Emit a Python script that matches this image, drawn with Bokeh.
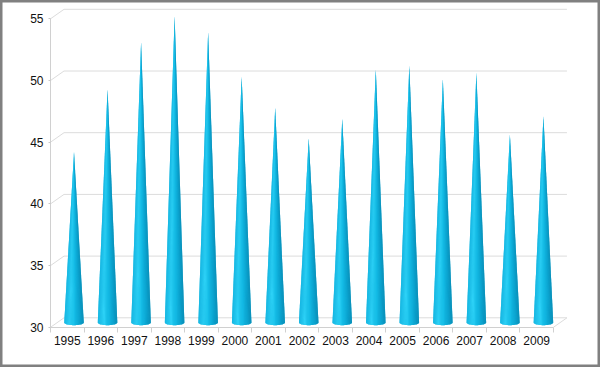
import numpy as np
from bokeh.plotting import figure
from bokeh.models import Range1d, LinearAxis, FixedTicker
from bokeh.embed import file_html
from bokeh.resources import INLINE

# ---- data ----
years = [str(y) for y in range(1995, 2010)]
values = [44.2, 49.3, 53.1, 55.2, 53.9, 50.3, 47.8, 45.3, 46.9, 50.9, 51.2, 50.1, 50.6, 45.6, 47.1]
y_ticks = [30, 35, 40, 45, 50, 55]
base_value = 30
top_value = 55

# ---- layout (pixels) ----
W, H = 600, 367
px_x = 33.53      # px per category
px_y = 12.34      # px per value unit
x0_px = 50.0      # front axis position in figure px
ytop_px = 18.3    # where top_value sits (figure px from top)
depth_dx_px = 13.5
depth_dy_px = 9.5

n = len(years)
x_start = -x0_px / px_x
x_end = (W - x0_px) / px_x
y_end = top_value + ytop_px / px_y
y_start = top_value - (H - ytop_px) / px_y
ddx = depth_dx_px / px_x
ddy = depth_dy_px / px_y

p = figure(width=W, height=H, x_range=Range1d(x_start, x_end), y_range=Range1d(y_start, y_end),
           output_backend="svg", toolbar_location=None, x_axis_location=None, y_axis_location=None,
           min_border=0)
p.grid.visible = False
p.outline_line_color = "#808080"
p.outline_line_width = 4
p.background_fill_color = "white"
p.border_fill_color = "white"

grid_color = "#dcdcdc"
# back wall grid lines + side diagonals
p.segment(x0=[0] * len(y_ticks), y0=y_ticks, x1=[ddx] * len(y_ticks), y1=[t + ddy for t in y_ticks],
          line_color=grid_color, line_width=1)
p.segment(x0=[ddx] * len(y_ticks), y0=[t + ddy for t in y_ticks], x1=[n + ddx] * len(y_ticks),
          y1=[t + ddy for t in y_ticks], line_color=grid_color, line_width=1)
# floor right edge
p.segment(x0=[n], y0=[base_value], x1=[n + ddx], y1=[base_value + ddy], line_color=grid_color, line_width=1)

# ---- cones ----
N = 24
r = 9.75 / px_x
b = 2.6 / px_y
stops_f = [0.0, 0.3, 0.55, 0.8, 1.0]
stops_c = [(0x19, 0xb9, 0xe4), (0x2f, 0xd3, 0xf8), (0x14, 0xbc, 0xe6), (0x0a, 0xa0, 0xcc), (0x08, 0x84, 0xac)]


def shade(f):
    rr = np.interp(f, stops_f, [c[0] for c in stops_c])
    gg = np.interp(f, stops_f, [c[1] for c in stops_c])
    bb = np.interp(f, stops_f, [c[2] for c in stops_c])
    return "#%02x%02x%02x" % (int(rr), int(gg), int(bb))


# underlying full cone silhouettes (hide seams)
cxs = [i + 0.5 + ddx / 2 for i in range(n)]
cy = base_value + ddy / 2
thetas = np.linspace(np.pi, 2 * np.pi, N + 1)
sil_x = [[cx - r] + [cx + r * np.cos(t) for t in thetas] + [cx + r, cx] for cx in cxs]
sil_y = [[cy] + [cy + b * np.sin(t) for t in thetas] + [cy, v] for v in values]
p.patches(xs=sil_x, ys=sil_y, fill_color="#14b4de", line_color=None)

xs, ys, cols = [], [], []
for cx, v in zip(cxs, values):
    for k in range(N):
        t0, t1 = thetas[k], thetas[k + 1]
        xs.append([cx, cx + r * np.cos(t0), cx + r * np.cos(t1)])
        ys.append([v, cy + b * np.sin(t0), cy + b * np.sin(t1)])
        fm = (1 + np.cos((t0 + t1) / 2)) / 2
        cols.append(shade(fm))
p.patches(xs=xs, ys=ys, fill_color=cols, line_color=None)

# ---- axes ----
font = "Liberation Sans"
yax = LinearAxis(fixed_location=0, ticker=FixedTicker(ticks=y_ticks), bounds=(base_value, top_value))
yax.axis_line_color = "#d0d0d0"
yax.major_tick_out = 2
yax.major_tick_in = 0
yax.major_tick_line_color = "#c8c8c8"
yax.minor_tick_out = 0
yax.minor_tick_in = 0
yax.major_label_text_font = font
yax.major_label_text_font_size = "12px"
yax.major_label_text_color = "#111111"
yax.major_label_standoff = 5
p.add_layout(yax, "left")

boundaries = list(range(n + 1))
xax = LinearAxis(fixed_location=base_value, ticker=FixedTicker(ticks=boundaries), bounds=(0, n),
                 major_label_overrides={bd: "" for bd in boundaries})
xax.axis_line_color = "#d0d0d0"
xax.major_tick_out = 5
xax.major_tick_in = 0
xax.major_tick_line_color = "#d0d0d0"
xax.minor_tick_out = 0
xax.minor_tick_in = 0
p.add_layout(xax, "below")

centers = [i + 0.5 for i in range(n)]
lax = LinearAxis(fixed_location=base_value, ticker=FixedTicker(ticks=centers),
                 major_label_overrides={c: yr for c, yr in zip(centers, years)})
lax.axis_line_alpha = 0
lax.major_tick_out = 0
lax.major_tick_in = 0
lax.minor_tick_out = 0
lax.minor_tick_in = 0
lax.major_label_text_font = font
lax.major_label_text_font_size = "12px"
lax.major_label_text_color = "#111111"
lax.major_label_standoff = 9
p.add_layout(lax, "below")

open("out.html", "w").write(file_html(p, INLINE))
